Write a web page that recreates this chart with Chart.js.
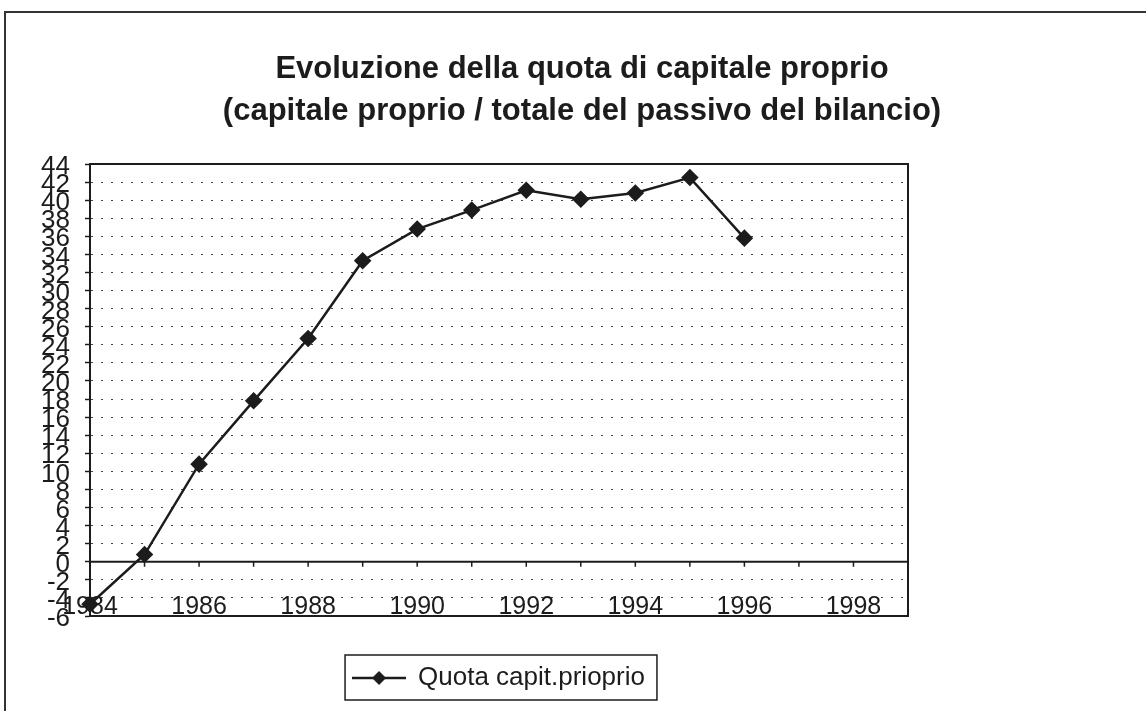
<!DOCTYPE html>
<html>
<head>
<meta charset="utf-8">
<script src="https://cdn.jsdelivr.net/npm/chart.js@4.4.1/dist/chart.umd.min.js"></script>
<style>
  html, body { margin: 0; padding: 0; background: #ffffff; }
  #wrap { width: 1146px; height: 711px; position: relative; }
</style>
</head>
<body>
<div id="wrap"><canvas id="c" width="1146" height="711"></canvas></div>
<script>
// ---- data ----
const titleLines = ['Evoluzione della quota di capitale proprio', '(capitale proprio / totale del passivo del bilancio)'];
const seriesName = 'Quota capit.prioprio';
const years = [1984, 1985, 1986, 1987, 1988, 1989, 1990, 1991, 1992, 1993, 1994, 1995, 1996];
const quota = [-4.7, 0.8, 10.8, 17.8, 24.7, 33.3, 36.8, 38.9, 41.1, 40.1, 40.8, 42.5, 35.8];
const xTickLabels = [1984, 1986, 1988, 1990, 1992, 1994, 1996, 1998];
const axisYears = [1984, 1985, 1986, 1987, 1988, 1989, 1990, 1991, 1992, 1993, 1994, 1995, 1996, 1997, 1998, 1999];
const yTicks = [-6, -4, -2, 0, 2, 4, 6, 8, 10, 12, 14, 16, 18, 20, 22, 24, 26, 28, 30, 32, 34, 36, 38, 40, 42, 44];

const FONT = '"Liberation Sans", Arial, Helvetica, sans-serif';
const INK = '#1c1c1c';

// legend marker: line with diamond
const mk = document.createElement('canvas');
mk.width = 54; mk.height = 16;
(function () {
  const g = mk.getContext('2d');
  g.strokeStyle = INK; g.lineWidth = 2.5;
  g.beginPath(); g.moveTo(0, 8); g.lineTo(54, 8); g.stroke();
  g.fillStyle = INK;
  g.beginPath(); g.moveTo(27, 1); g.lineTo(34, 8); g.lineTo(27, 15); g.lineTo(20, 8); g.closePath(); g.fill();
})();

const decor = {
  id: 'decor',
  beforeDatasetsDraw(chart) {
    const ctx = chart.ctx, a = chart.chartArea;
    const xs = chart.scales.x, ys = chart.scales.y;
    ctx.save();
    // zero axis with year tick marks
    const y0 = ys.getPixelForValue(0);
    ctx.strokeStyle = INK; ctx.lineWidth = 2;
    ctx.beginPath(); ctx.moveTo(a.left, y0); ctx.lineTo(a.right, y0); ctx.stroke();
    ctx.lineWidth = 1.5;
    axisYears.forEach(yr => {
      const x = xs.getPixelForValue(yr);
      ctx.beginPath(); ctx.moveTo(x, y0); ctx.lineTo(x, y0 + 5); ctx.stroke();
    });
    // plot frame
    ctx.lineWidth = 2;
    ctx.strokeRect(a.left, a.top, a.right - a.left, a.bottom - a.top);
    ctx.restore();
  },
  afterDraw(chart) {
    const ctx = chart.ctx;
    ctx.save();
    // legend box
    const hb = chart.legend && chart.legend.legendHitBoxes && chart.legend.legendHitBoxes[0];
    if (hb) {
      ctx.strokeStyle = INK; ctx.lineWidth = 1.5;
      ctx.strokeRect(hb.left - 8, hb.top - 10, hb.width + 20, hb.height + 19);
    }
    // outer chart frame
    ctx.strokeStyle = '#333'; ctx.lineWidth = 2;
    ctx.beginPath(); ctx.moveTo(5, 711); ctx.lineTo(5, 12); ctx.lineTo(1146, 12); ctx.stroke();
    ctx.restore();
  }
};

new Chart(document.getElementById('c'), {
  type: 'line',
  data: {
    datasets: [{
      label: seriesName,
      data: years.map((yr, i) => ({ x: yr, y: quota[i] })),
      borderColor: INK,
      backgroundColor: INK,
      borderWidth: 2.5,
      pointStyle: 'rectRot',
      pointRadius: 7,
      pointBackgroundColor: INK,
      pointBorderColor: INK,
      tension: 0,
      clip: false
    }]
  },
  options: {
    responsive: false,
    animation: false,
    devicePixelRatio: 1,
    layout: { padding: { left: 40, right: 22, top: 0, bottom: 10 } },
    plugins: {
      tooltip: { enabled: false },
      title: {
        display: true,
        text: titleLines,
        color: INK,
        font: { family: FONT, size: 31, weight: 'bold', lineHeight: 42 / 31 },
        padding: { top: 48, bottom: 32 }
      },
      legend: {
        display: true,
        position: 'bottom',
        fullSize: false,
        labels: {
          usePointStyle: true,
          pointStyle: mk,
          pointStyleWidth: 52,
          color: INK,
          padding: 10,
          font: { family: FONT, size: 26 }
        }
      }
    },
    scales: {
      x: {
        type: 'linear',
        position: 'bottom',
        min: 1984,
        max: 1999,
        grid: { display: false },
        border: { display: false },
        ticks: {
          color: INK,
          font: { family: FONT, size: 25 },
          padding: -32,
          autoSkip: false,
          maxRotation: 0,
          callback: v => String(v)
        },
        afterBuildTicks: s => { s.ticks = xTickLabels.map(v => ({ value: v })); },
        afterFit: s => { s.height = 39; s._computeLabelArea = () => undefined; }
      },
      y: {
        type: 'linear',
        position: 'left',
        min: -6,
        max: 44,
        grid: {
          color: '#444',
          lineWidth: 1,
          drawTicks: true,
          tickLength: 5,
          tickColor: INK,
          tickWidth: 1.5
        },
        border: { display: true, color: INK, width: 2, dash: [2, 8] },
        ticks: {
          color: INK,
          font: { family: FONT, size: 26 },
          padding: 15,
          labelOffset: 3,
          autoSkip: false,
          callback: v => String(v)
        },
        afterBuildTicks: s => { s.ticks = yTicks.map(v => ({ value: v })); },
        afterFit: s => { s.width = 50; }
      },
      y2: {
        type: 'linear',
        position: 'right',
        min: 0,
        max: 1,
        grid: { display: false, drawOnChartArea: false },
        border: { display: false },
        ticks: { display: false },
        afterFit: s => { s.width = 216; }
      }
    }
  },
  plugins: [decor]
});
</script>
</body>
</html>
